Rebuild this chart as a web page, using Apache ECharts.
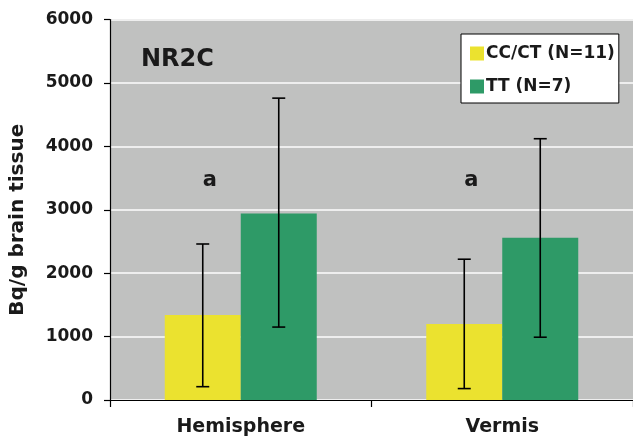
<!DOCTYPE html>
<html>
<head>
<meta charset="utf-8">
<script src="https://cdn.jsdelivr.net/npm/echarts@6/dist/echarts.min.js"></script>
<style>
html,body{margin:0;padding:0;background:#fff;}
#c{width:633px;height:446px;}
</style>
</head>
<body>
<div id="c"></div>
<script>
// ---- data ----
const categories = ['Hemisphere', 'Vermis'];
const seriesNames = ['CC/CT (N=11)', 'TT (N=7)'];
const ccctMean = [1340, 1200];
const ccctLow = [210, 180];
const ccctHigh = [2460, 2220];
const ttMean = [2940, 2560];
const ttLow = [1150, 990];
const ttHigh = [4760, 4120];
const sigLetters = ['a', 'a'];
const sigLevel = [3460, 3460];
const yMin = 0, yMax = 6000, yStep = 1000;
const panelTitle = 'NR2C';
const yAxisTitle = 'Bq/g brain tissue';

// ---- style ----
const FONT = 'DejaVu Sans';
const BAR_W = 76;
const YELLOW = '#ebe22f';
const GREEN = '#2e9a67';
const TXT = '#1a1a1a';

function errRender(sign) {
  return function (params, api) {
    const i = api.value(0);
    const lo = api.coord([i, api.value(1)]);
    const hi = api.coord([i, api.value(2)]);
    const x = lo[0] + sign * BAR_W / 2;
    const cap = 6.5;
    const st = { stroke: '#000', lineWidth: 1.6 };
    return {
      type: 'group',
      children: [
        { type: 'line', shape: { x1: x, y1: lo[1], x2: x, y2: hi[1] }, style: st },
        { type: 'line', shape: { x1: x - cap, y1: lo[1], x2: x + cap, y2: lo[1] }, style: st },
        { type: 'line', shape: { x1: x - cap, y1: hi[1], x2: x + cap, y2: hi[1] }, style: st }
      ]
    };
  };
}

function letterRender(params, api) {
  const i = api.value(0);
  const p = api.coord([i, api.value(1)]);
  return {
    type: 'text',
    style: {
      x: p[0] - BAR_W / 2 + 7, y: p[1],
      text: sigLetters[params.dataIndex],
      align: 'center', verticalAlign: 'middle',
      font: 'bold 21px "' + FONT + '"', fill: TXT
    }
  };
}

const chart = echarts.init(document.getElementById('c'), null, { renderer: 'canvas' });
chart.setOption({
  animation: false,
  backgroundColor: '#fff',
  grid: {
    left: 108, right: 0, top: 19.5, bottom: 46,
    show: true, backgroundColor: '#c0c1c0', borderWidth: 0
  },
  title: {
    text: panelTitle, left: 136, top: 43,
    textStyle: { fontFamily: FONT, fontWeight: 'bold', fontSize: 24, color: TXT }
  },
  legend: {
    data: seriesNames,
    orient: 'vertical', left: 461, top: 34,
    backgroundColor: '#fff', borderColor: '#000', borderWidth: 1,
    padding: [11, 4, 8, 9], itemWidth: 14, itemHeight: 14, itemGap: 16,
    icon: 'rect',
    textStyle: { fontFamily: FONT, fontWeight: 'bold', fontSize: 17, color: TXT, padding: [0, 0, 0, -3] }
  },
  xAxis: {
    type: 'category', data: categories,
    axisLine: { show: true, lineStyle: { color: '#000', width: 1.2 } },
    axisTick: { show: true, length: 7, lineStyle: { color: '#000', width: 1.2 } },
    axisLabel: { margin: 18, fontFamily: FONT, fontWeight: 'bold', fontSize: 19, color: TXT },
    splitLine: { show: false }
  },
  yAxis: {
    type: 'value', min: yMin, max: yMax, interval: yStep,
    name: yAxisTitle, nameLocation: 'middle', nameGap: 82, nameRotate: 90,
    nameTextStyle: { fontFamily: FONT, fontWeight: 'bold', fontSize: 20, color: TXT, padding: [0, 20, 0, 0] },
    axisLine: { show: true, lineStyle: { color: '#000', width: 1.2 } },
    axisTick: { show: true, length: 6, lineStyle: { color: '#000', width: 1.2 } },
    axisLabel: { margin: 17, fontFamily: FONT, fontWeight: 'bold', fontSize: 17, color: TXT,
      formatter: v => String(v) },
    splitLine: { show: true, lineStyle: { color: '#eeeeee', width: 2 } }
  },
  series: [
    { name: seriesNames[0], type: 'bar', data: ccctMean, barWidth: BAR_W, barGap: '0%',
      itemStyle: { color: YELLOW } },
    { name: seriesNames[1], type: 'bar', data: ttMean, barWidth: BAR_W, barGap: '0%',
      itemStyle: { color: GREEN } },
    { type: 'custom', renderItem: errRender(-1), z: 5,
      encode: { x: 0, y: [1, 2] },
      data: categories.map((c, i) => [i, ccctLow[i], ccctHigh[i]]) },
    { type: 'custom', renderItem: errRender(1), z: 5,
      encode: { x: 0, y: [1, 2] },
      data: categories.map((c, i) => [i, ttLow[i], ttHigh[i]]) },
    { type: 'custom', renderItem: letterRender, z: 5,
      encode: { x: 0, y: 1 },
      data: categories.map((c, i) => [i, sigLevel[i]]) }
  ]
});
</script>
</body>
</html>
